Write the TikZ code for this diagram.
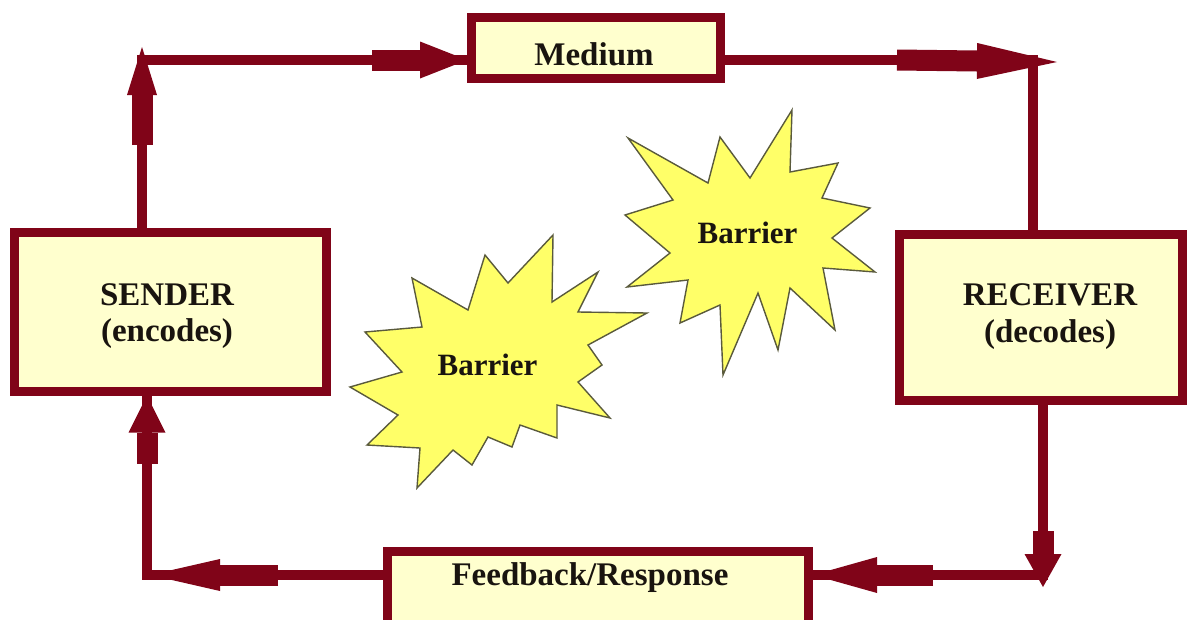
\documentclass[tikz,border=0pt]{standalone}
\usepackage{fontspec}
\setmainfont{Liberation Serif}
\usetikzlibrary{arrows.meta,calc}
\definecolor{linkred}{RGB}{128,4,24}
\definecolor{boxfill}{RGB}{255,255,206}
\definecolor{burstfill}{RGB}{255,255,104}
\definecolor{burstline}{RGB}{90,90,60}
\definecolor{ink}{RGB}{25,20,15}
\tikzset{
  box/.style={draw=linkred, fill=boxfill, line width=9pt, inner sep=0pt},
  label/.style={font=\bfseries\fontsize{33pt}{36pt}\selectfont, text=ink, anchor=base, inner sep=0pt},
  burstlabel/.style={font=\bfseries\fontsize{31pt}{34pt}\selectfont, text=ink, anchor=base, inner sep=0pt},
  link/.style={draw=linkred, line width=10pt},
  fathead/.style 2 args={draw=linkred, line width=21pt,
    -{Triangle[length=#1, width=#2, line width=0pt 0 0]}},
  burst/.style={fill=burstfill, draw=burstline, line width=1.4pt, line join=miter},
}
\begin{document}
\begin{tikzpicture}[x=1pt, y=-1pt]
\useasboundingbox (0,0) rectangle (1189,619);

% boxes
\node[box, minimum width=312pt, minimum height=159pt] (sender)   at (170,311.5) {};
\node[box, minimum width=283pt, minimum height=166pt] (receiver) at (1041,317.5) {};
\node[box, minimum width=249pt, minimum height=61pt]  (medium)   at (596,48) {};
\node[box, minimum width=421pt, minimum height=74pt]  (feedback) at (598,588.5) {};

% box texts
\node[label] (senderA)   at (167,305) {SENDER};
\node[label] (senderB)   at (167,341) {(encodes)};
\node[label] (receiverA) at (1050,305) {RECEIVER};
\node[label] (receiverB) at (1050,342) {(decodes)};
\node[label] (mediumT)   at (594,65) {Medium};
\node[label] (feedbackT) at (590,585) {Feedback/Response};

% corners of the loop
\coordinate (c1) at (142,60);
\coordinate (c2) at (1033,60);
\coordinate (c3) at (1043,575);
\coordinate (c4) at (147,575);

% sender -> medium
\draw[link] (sender.north -| c1) -- (c1) -- (c1 -| medium.west);
\draw[fathead={48pt}{30pt}] ($(c1)+(0,85)$) -- ($(c1)+(0,-13)$);
\draw[fathead={47pt}{37pt}] ($(c1 -| medium.west)+(-95,0)$) -- (c1 -| medium.west);

% medium -> receiver
\draw[link] (c2 -| medium.east) -- (c2) -- (receiver.north -| c2);
\draw[fathead={80pt}{36pt}] ($(c2)+(-136,0)$) -- ($(c2)+(24,2)$);

% receiver -> feedback
\draw[link] (receiver.south -| c3) -- (c3) -- (c3 -| feedback.east);
\draw[fathead={33pt}{37pt}] ($(c3)+(0,-44)$) -- ($(c3)+(0,12)$);
\draw[fathead={64pt}{36pt}] ($(c3 -| feedback.east)+(120,0)$) -- (c3 -| feedback.east);

% feedback -> sender
\draw[link] (c4 -| feedback.west) -- (c4) -- (sender.south -| c4);
\draw[fathead={70pt}{32pt}] ($(c4)+(131,0)$) -- ($(c4)+(3,0)$);
\draw[fathead={37pt}{37pt}] ($(sender.south -| c4)+(0,68)$) -- (sender.south -| c4);

% lower barrier burst
\filldraw[burst] (365,332) -- (422,327) -- (412,278) -- (468,310) -- (485,255)
  -- (508,283) -- (553,235) -- (552,302) -- (598,272) -- (578,312) -- (647,313)
  -- (588,345) -- (602,365) -- (578,382) -- (610,418) -- (557,405) -- (557,438)
  -- (520,425) -- (512,447) -- (488,437) -- (472,465) -- (453,450) -- (417,488)
  -- (420,448) -- (367,445) -- (398,415) -- (350,387) -- (402,372) -- cycle;
\node[burstlabel] (barrierA) at (487.5,375) {Barrier};

% upper barrier burst
\filldraw[burst] (628,138) -- (708,183) -- (720,137) -- (750,178) -- (792,110)
  -- (790,172) -- (838,163) -- (822,198) -- (870,208) -- (832,238) -- (875,272)
  -- (823,268) -- (835,330) -- (790,288) -- (778,350) -- (758,293) -- (723,375)
  -- (720,305) -- (680,323) -- (688,280) -- (627,287) -- (670,253) -- (625,215)
  -- (673,200) -- cycle;
\node[burstlabel] (barrierB) at (747.5,243) {Barrier};
\end{tikzpicture}
\end{document}
